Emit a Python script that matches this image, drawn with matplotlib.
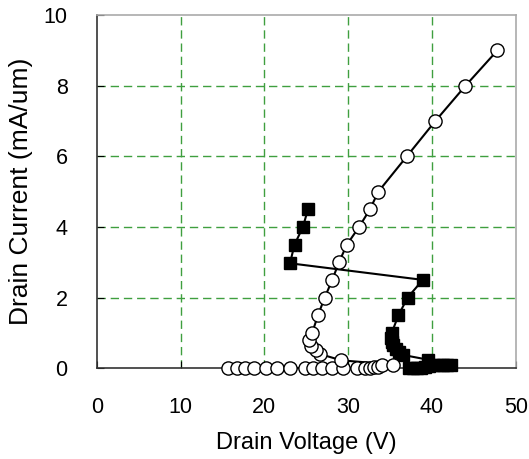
import matplotlib
matplotlib.use("Agg")
import matplotlib.pyplot as plt

plt.rcParams['font.family'] = ['Liberation Sans', 'DejaVu Sans']

# open circles: leakage sweep then snapback branch
circle_v = [15.7, 16.7, 17.7, 18.8, 20.2, 21.5, 23.0, 24.8, 25.8, 26.9, 28.1, 29.4,
            31.0, 32.0, 32.6, 33.1, 33.5, 34.0, 35.4,
            29.2, 26.6, 26.1, 25.6, 25.3, 25.7, 26.4, 27.2, 28.1, 28.9, 29.85,
            31.3, 32.6, 33.6, 37.0, 40.4, 44.0, 47.8]
circle_i = [0, 0, 0, 0, 0, 0, 0, 0, 0, 0, 0, 0,
            0, 0, 0.01, 0.02, 0.03, 0.1, 0.1,
            0.22, 0.4, 0.52, 0.64, 0.79, 1.0, 1.5, 2.0, 2.5, 3.0, 3.5,
            4.0, 4.5, 5.0, 6.0, 7.0, 8.0, 9.0]

# filled squares
square_v = [37.2, 37.7, 38.2, 38.7, 39.2, 39.7, 40.2, 40.8, 41.3, 41.8, 42.3,
            39.5, 36.6, 36.1, 35.7, 35.4, 35.2, 35.1, 35.2, 36.0, 37.1, 38.9,
            23.05, 23.6, 24.6, 25.2]
square_i = [0, 0, 0, 0, 0.02, 0.05, 0.08, 0.1, 0.1, 0.1, 0.1,
            0.24, 0.37, 0.45, 0.55, 0.65, 0.75, 0.85, 1.0, 1.5, 2.0, 2.5,
            2.97, 3.5, 4.0, 4.5]

x_ticks = [0, 10, 20, 30, 40, 50]
y_ticks = [0, 2, 4, 6, 8, 10]

fig = plt.figure(figsize=(5.29, 4.59), dpi=100)
ax = fig.add_axes([0.183, 0.198, 0.792, 0.769])

ax.plot(square_v, square_i, color='black', lw=1.5, marker='s', ms=8,
        mfc='black', mec='black', clip_on=False, zorder=3)
ax.plot(circle_v, circle_i, color='black', lw=1.5, marker='o', ms=9.5,
        mfc='white', mec='black', mew=1.0, clip_on=False, zorder=4)

ax.set_xlim(0, 50)
ax.set_ylim(0, 10)
ax.set_xticks(x_ticks)
ax.set_yticks(y_ticks)
ax.tick_params(direction='in', length=5, labelsize=15.5, pad=21, colors='black')

# dashed green grid, skipping the lines that sit on the frame
for x in x_ticks[1:-1]:
    ax.axvline(x, color='#3f9f3f', linestyle=(0, (6, 3.5)), linewidth=1.0, zorder=1)
for y in y_ticks[1:-1]:
    ax.axhline(y, color='#3f9f3f', linestyle=(0, (6, 3.5)), linewidth=1.0, zorder=1)

for side in ['left', 'bottom']:
    ax.spines[side].set_color('#333333')
    ax.spines[side].set_linewidth(1.2)
for side in ['top', 'right']:
    ax.spines[side].set_color('#aaaaaa')
    ax.spines[side].set_linewidth(1.2)

ax.set_xlabel("Drain Voltage (V)", fontsize=17, labelpad=10)
ax.set_ylabel("Drain Current (mA/um)", fontsize=19, labelpad=8)

plt.savefig("out.png", dpi=100)
